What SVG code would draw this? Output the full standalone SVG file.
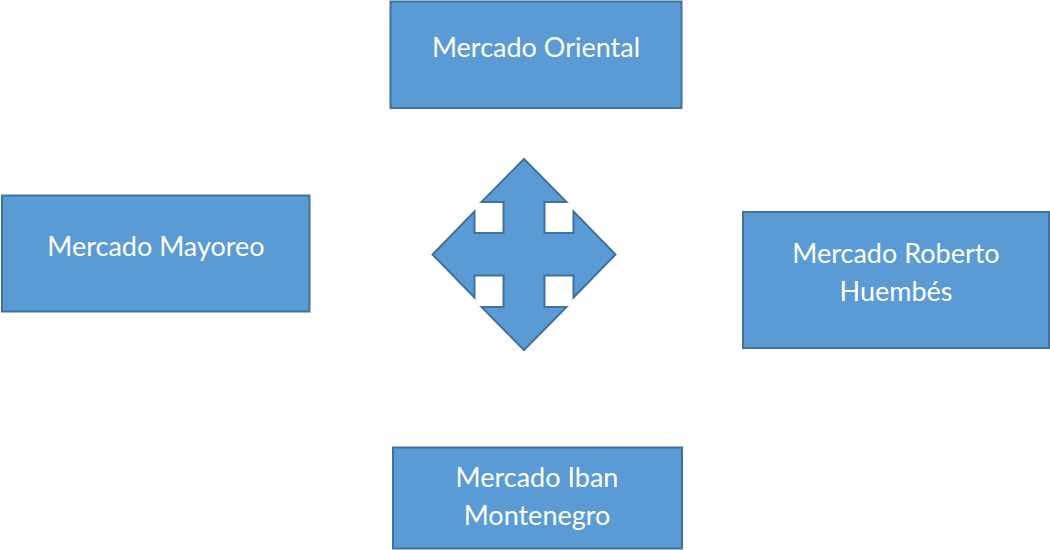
<svg xmlns="http://www.w3.org/2000/svg" width="1050" height="550" viewBox="0 0 1050 550">
<style>
.box{fill:#5B9BD5;stroke:#41719C;stroke-width:2}
.lbl{fill:#FFFFFF;font-family:Lato,"Open Sans","Liberation Sans",sans-serif;font-size:27px;text-anchor:middle}
</style>
<rect width="1050" height="550" fill="#FFFFFF"/>
<g id="node-oriental">
<rect class="box" x="390.5" y="1.5" width="291" height="106.5"/>
<text class="lbl" x="536" y="56.5">Mercado Oriental</text>
</g>
<g id="node-mayoreo">
<rect class="box" x="2" y="195.5" width="307.5" height="116"/>
<text class="lbl" x="156" y="256">Mercado Mayoreo</text>
</g>
<g id="node-roberto">
<rect class="box" x="743" y="212" width="306" height="136"/>
<text class="lbl" x="896" y="262.5">Mercado Roberto</text>
<text class="lbl" x="896" y="301">Huembés</text>
</g>
<g id="node-iban">
<rect class="box" x="393" y="447.5" width="289" height="101"/>
<text class="lbl" x="537" y="486.5">Mercado Iban</text>
<text class="lbl" x="537" y="525">Montenegro</text>
</g>
<g id="connectors">
<polygon class="box" points="524,159 566.5,202 544.5,202 544.5,233 573.5,233 573.5,211.5 615.5,254.5 573.5,297.5 573.5,275.5 544.5,275.5 544.5,307 566.5,307 524,350 481.5,307 503.5,307 503.5,275.5 474.5,275.5 474.5,297.5 432.5,254.5 474.5,211.5 474.5,233 503.5,233 503.5,202 481.5,202"/>
</g>
</svg>
